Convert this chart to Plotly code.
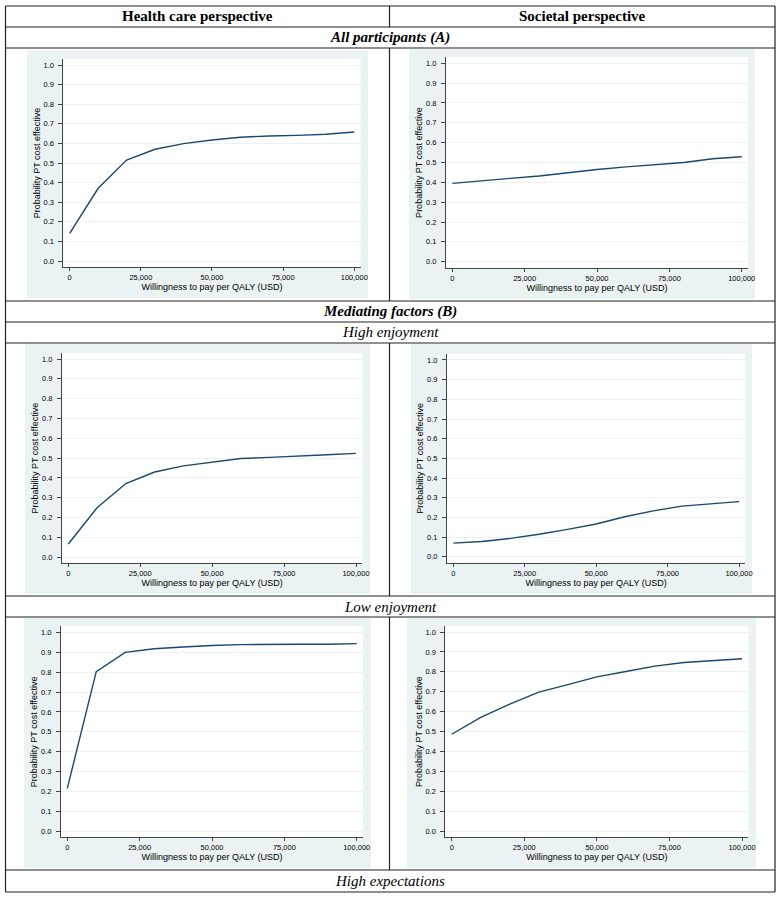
import plotly.graph_objects as go

# ---------------- data ----------------
wtp = [0, 10000, 20000, 30000, 40000, 50000, 60000, 70000, 80000, 90000, 100000]

hc_all = [0.141, 0.371, 0.515, 0.570, 0.599, 0.617, 0.631, 0.638, 0.641, 0.647, 0.658]
soc_all = [0.395, 0.406, 0.420, 0.432, 0.449, 0.465, 0.478, 0.490, 0.500, 0.519, 0.529]
hc_high_enj = [0.067, 0.250, 0.372, 0.430, 0.461, 0.481, 0.498, 0.504, 0.509, 0.517, 0.524]
soc_high_enj = [0.069, 0.077, 0.093, 0.114, 0.139, 0.166, 0.203, 0.233, 0.257, 0.267, 0.280]
hc_low_enj = [0.216, 0.802, 0.899, 0.917, 0.926, 0.934, 0.938, 0.940, 0.940, 0.940, 0.943]
soc_low_enj = [0.487, 0.572, 0.638, 0.698, 0.736, 0.775, 0.802, 0.829, 0.847, 0.858, 0.866]

col_headers = ["Health care perspective", "Societal perspective"]
section_all = "All participants (A)"
section_med = "Mediating factors (B)"
subgroups = ["High enjoyment", "Low enjoyment", "High expectations"]

x_ticks = [0, 25000, 50000, 75000, 100000]
y_ticks = [0.0, 0.1, 0.2, 0.3, 0.4, 0.5, 0.6, 0.7, 0.8, 0.9, 1.0]
x_title = "Willingness to pay per QALY (USD)"
y_title = "Probability PT cost effective"

series = [hc_all, soc_all, hc_high_enj, soc_high_enj, hc_low_enj, soc_low_enj]

# ---------------- layout geometry (pixels) ----------------
W, H = 779, 899
XR = [-2200, 102200]
YR = [-0.03, 1.03]

# (x at 0, x at 100000, y at 1.0, y at 0.0) in pixels for each panel
anchors = [
    (69.7, 354.3, 65.0, 261.0),
    (452.3, 741.7, 63.3, 261.7),
    (68.3, 356.0, 359.0, 557.3),
    (453.3, 739.0, 360.0, 556.7),
    (67.3, 356.7, 632.3, 831.3),
    (451.7, 742.0, 632.0, 831.3),
]
# light panel backgrounds (x0, x1, y0, y1) px
panels = [
    (27, 368, 50, 298),
    (409, 755, 49, 299),
    (25, 370, 344, 594),
    (411, 752, 344, 594),
    (24, 371, 618, 868),
    (407, 756, 618, 868),
]

LINE = "#1A476F"
PANEL = "#EAF2F3"
SANS = "Liberation Sans, Arial, sans-serif"


def px(x):
    return x / W


def py(y):
    return 1 - y / H


def domains(x0p, x1p, y1p, y0p):
    sx = (x1p - x0p) / 100000.0
    left = x0p + XR[0] * sx
    right = x0p + XR[1] * sx
    sy = (y0p - y1p)
    top = y0p - YR[1] * sy
    bottom = y0p - YR[0] * sy
    return [px(left), px(right)], [py(bottom), py(top)]


fig = go.Figure()
shapes = []
annotations = []

# panel backgrounds
for (a, b, c, d) in panels:
    shapes.append(dict(type="rect", xref="paper", yref="paper",
                       x0=px(a), x1=px(b), y0=py(d), y1=py(c),
                       fillcolor=PANEL, line=dict(width=0), layer="below"))

layout_axes = {}
for i, (anc, ys) in enumerate(zip(anchors, series)):
    n = "" if i == 0 else str(i + 1)
    xd, yd = domains(*anc)
    fig.add_trace(go.Scatter(x=wtp, y=ys, mode="lines",
                             line=dict(color=LINE, width=1.4),
                             xaxis="x" + n, yaxis="y" + n,
                             showlegend=False, hoverinfo="x+y"))
    shapes.append(dict(type="rect", xref="x" + n + " domain", yref="y" + n + " domain",
                       x0=0, x1=1, y0=0, y1=1, fillcolor="white",
                       line=dict(width=0), layer="below"))
    layout_axes["xaxis" + n] = dict(
        domain=xd, anchor="y" + n, range=XR, tickvals=x_ticks,
        tickformat=",", showgrid=False, zeroline=False,
        showline=True, linecolor="#444", linewidth=1,
        ticks="outside", ticklen=3, tickcolor="#444", tickwidth=1,
        tickfont=dict(family=SANS, size=7.5, color="black"),
        title=dict(text=x_title, standoff=0,
                   font=dict(family=SANS, size=9, color="black")),
        automargin=False, fixedrange=True,
    )
    layout_axes["yaxis" + n] = dict(
        domain=yd, anchor="x" + n, range=YR, tickvals=y_ticks,
        tickformat=".1f", showgrid=True, gridcolor=PANEL, gridwidth=1,
        zeroline=False, showline=True, linecolor="#444", linewidth=1,
        ticks="outside", ticklen=4, tickcolor="#444", tickwidth=1,
        ticklabelstandoff=3,
        tickfont=dict(family=SANS, size=7.5, color="black"),
        title=dict(text=y_title, standoff=1,
                   font=dict(family=SANS, size=9, color="black")),
        automargin=False, fixedrange=True,
    )

# table lines
BL = dict(color="#222", width=1.2)
L, R, MID = 5.5, 775, 389.5
hlines = [6, 27, 48, 301, 322, 343, 596, 617, 870, 892]
for y in hlines:
    shapes.append(dict(type="line", xref="paper", yref="paper",
                       x0=px(L), x1=px(R), y0=py(y), y1=py(y), line=BL))
for x in [L, R]:
    shapes.append(dict(type="line", xref="paper", yref="paper",
                       x0=px(x), x1=px(x), y0=py(6), y1=py(892), line=BL))
for (a, b) in [(6, 27), (48, 301), (343, 596), (617, 870)]:
    shapes.append(dict(type="line", xref="paper", yref="paper",
                       x0=px(MID), x1=px(MID), y0=py(a), y1=py(b), line=BL))

SERIF = "Palatino Linotype, Book Antiqua, Liberation Serif, DejaVu Serif, serif"


def txt(text, x, y, size=15):
    annotations.append(dict(text=text, xref="paper", yref="paper",
                            x=px(x), y=py(y), showarrow=False,
                            xanchor="center", yanchor="middle",
                            font=dict(family=SERIF, size=size, color="black")))


txt("<b>" + col_headers[0] + "</b>", (L + MID) / 2, 16.5)
txt("<b>" + col_headers[1] + "</b>", (MID + R) / 2, 16.5)
txt("<b><i>" + section_all + "</i></b>", (L + R) / 2, 37.5)
txt("<b><i>" + section_med + "</i></b>", (L + R) / 2, 311.5)
txt("<i>" + subgroups[0] + "</i>", (L + R) / 2, 332.5)
txt("<i>" + subgroups[1] + "</i>", (L + R) / 2, 606.5)
txt("<i>" + subgroups[2] + "</i>", (L + R) / 2, 881)

fig.update_layout(
    template="none",
    width=W, height=H,
    margin=dict(l=0, r=0, t=0, b=0),
    paper_bgcolor="white", plot_bgcolor="white",
    shapes=shapes, annotations=annotations,
    **layout_axes,
)

fig.write_html("out.html",
               config={"displayModeBar": False},
               post_script="document.body.style.margin='0px';"
                           "document.body.style.overflow='hidden';")
